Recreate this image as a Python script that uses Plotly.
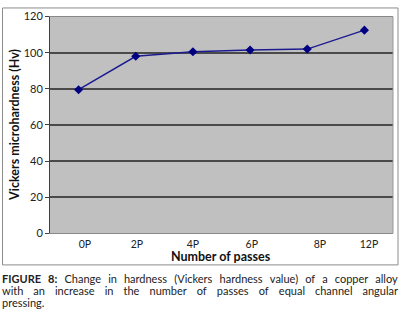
import json
import plotly.graph_objects as go

passes = ["0P", "2P", "4P", "6P", "8P", "12P"]
hardness = [79.5, 98, 100.5, 101.5, 102, 112.5]
x_index = [0, 1, 2, 3, 4, 5]
# label positions as drawn in the original (slightly offset from points)
label_pos = [0.11, 1.02, 2.0, 3.03, 4.22, 5.08]
y_ticks = [0, 20, 40, 60, 80, 100, 120]

x_title = "Number of passes"
y_title = "Vickers microhardness (Hv)"
# caption words with rough starting pixel (refined to justified spacing in the browser)
caption_line1 = [("<b>FIGURE</b>", 2), ("<b>8:</b>", 40), ("Change", 62), ("in", 101), ("hardness", 115),
                 ("(Vickers", 165), ("hardness", 212), ("value)", 263), ("of", 298), ("a", 314),
                 ("copper", 327), ("alloy", 370)]
caption_line2 = [("with", 2), ("an", 30), ("increase", 52), ("in", 103), ("the", 122), ("number", 150),
                 ("of", 195), ("passes", 216), ("of", 258), ("equal", 280), ("channel", 316),
                 ("angular", 362)]
caption_line3 = [("pressing.", 2)]

W, H = 402, 315
FONT = "Lato"

fig = go.Figure()
fig.add_trace(go.Scatter(
    x=x_index, y=hardness, mode="lines+markers",
    line=dict(color="#1c1c90", width=1.5),
    marker=dict(symbol="diamond", size=7, color="#000080"),
    showlegend=False, hoverinfo="skip"))

fig.update_layout(
    width=W, height=H,
    margin=dict(l=0, r=0, t=0, b=0),
    paper_bgcolor="white", plot_bgcolor="#c0c0c0",
    font=dict(family=FONT, size=11, color="#222222"),
    xaxis=dict(domain=[50 / W, 393 / W], range=[-0.5, 5.5],
               tickvals=label_pos, ticktext=passes, ticks="", ticklabelstandoff=1,
               showgrid=False, zeroline=False, showline=True, linecolor="#888888", linewidth=1,
               mirror=True, tickfont=dict(size=10.5, color="#222222")),
    yaxis=dict(domain=[1 - 236 / H, 1 - 10 / H], range=[0, 120],
               tickvals=y_ticks, ticks="outside", ticklen=4, tickcolor="#404040",
               showgrid=True, gridcolor="#4a4a4a", gridwidth=1.5, zeroline=False,
               showline=True, linecolor="#404040", linewidth=1, mirror=False,
               tickfont=dict(size=11, color="#222222")),
)

# right border of plot area
fig.add_shape(type="line", xref="paper", yref="paper", x0=393 / W, x1=393 / W,
              y0=1 - 236 / H, y1=1 - 10 / H, line=dict(color="#999999", width=1))
# outer frame around chart
fig.add_shape(type="rect", xref="paper", yref="paper", x0=2.5 / W, x1=398 / W,
              y0=1 - 269 / H, y1=1 - 1 / H, line=dict(color="#8c8c8c", width=1))

groups = []
idx = 0
for line, ypix in ((caption_line1, 283), (caption_line2, 296), (caption_line3, 308)):
    g = []
    for word, xp in line:
        fig.add_annotation(
            x=xp / W, y=1 - ypix / H, xref="paper", yref="paper", text=word, showarrow=False,
            xanchor="left", yanchor="middle", align="left", borderpad=0, borderwidth=0,
            font=dict(family=FONT, size=11, color="#222222"))
        g.append(idx)
        idx += 1
    groups.append(g)

# axis titles
fig.add_annotation(x=221 / W, y=1 - 260 / H, xref="paper", yref="paper",
                   text="<b>" + x_title + "</b>", showarrow=False,
                   xanchor="center", yanchor="middle", borderpad=0,
                   font=dict(family=FONT, size=12.5, color="#111111"))
fig.add_annotation(x=15 / W, y=1 - 123 / H, xref="paper", yref="paper",
                   text="<b>" + y_title + "</b>", showarrow=False, textangle=-90,
                   xanchor="center", yanchor="middle",
                   font=dict(family=FONT, size=12.5, color="#111111"))

justify_groups = json.dumps(groups[:2])
justify_js = """
(function(){
  document.body.style.margin = '0';
  document.body.style.overflow = 'hidden';
  var gd = document.getElementById('{plot_id}');
  var groups = GROUPS;
  var LEFT = 2, RIGHT = 398;
  try {
    groups.forEach(function(ids){
      var items = ids.map(function(i){
        var g = gd.querySelector('g.annotation[data-index="' + i + '"]');
        return g ? g.querySelector('text.annotation-text') : null;
      });
      if (items.some(function(t){ return !t; })) return;
      var rects = items.map(function(t){ return t.getBoundingClientRect(); });
      var total = rects.reduce(function(s, r){ return s + r.width; }, 0);
      var gap = (RIGHT - LEFT - total) / (items.length - 1);
      var pos = LEFT;
      items.forEach(function(t, k){
        var dx = pos - rects[k].left;
        var prev = t.getAttribute('transform') || '';
        t.setAttribute('transform', prev + ' translate(' + dx + ',0)');
        pos += rects[k].width + gap;
      });
    });
  } catch (e) {}
})();
""".replace("GROUPS", justify_groups)

fig.write_html("out.html", config={"displayModeBar": False}, post_script=justify_js)
